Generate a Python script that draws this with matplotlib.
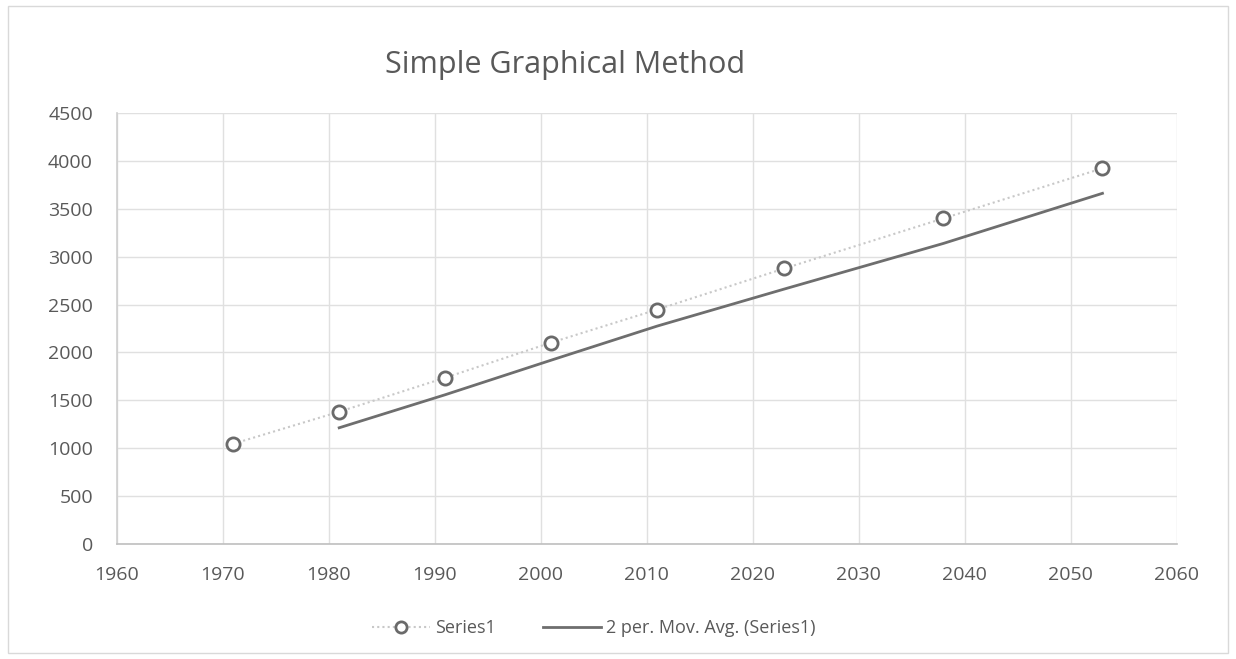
import matplotlib
matplotlib.use("Agg")
import matplotlib.pyplot as plt
from matplotlib.patches import Rectangle
import numpy as np
import pandas as pd

years = [1971, 1981, 1991, 2001, 2011, 2023, 2038, 2053]
values = [1046, 1381, 1736, 2103, 2448, 2877, 3400, 3923]
x_ticks = [1960, 1970, 1980, 1990, 2000, 2010, 2020, 2030, 2040, 2050, 2060]
y_ticks = [0, 500, 1000, 1500, 2000, 2500, 3000, 3500, 4000, 4500]
title = "Simple Graphical Method"
series_label = "Series1"
ma_label = "2 per. Mov. Avg. (Series1)"

plt.rcParams['font.family'] = ['Open Sans', 'DejaVu Sans']

fig = plt.figure(figsize=(12.36, 6.59), dpi=100)
ax = fig.add_axes([0.0943, 0.1745, 0.8577, 0.654])

ma = pd.Series(values).rolling(2).mean()

ax.plot(years, values, linestyle=(0, (1, 1.5)), color='#c8c8c8', linewidth=1.5,
        marker='o', markersize=9.5, markerfacecolor='white',
        markeredgecolor='#6a6a6a', markeredgewidth=2.0, label=series_label, zorder=3)
ax.plot(years[1:], ma[1:], color='#6e6e6e', linewidth=2, label=ma_label, zorder=2)

ax.set_xlim(1960, 2060)
ax.set_ylim(0, 4500)
ax.set_xticks(x_ticks)
ax.set_yticks(y_ticks)
ax.grid(True, color='#e0e0e0', linewidth=1)
ax.set_axisbelow(True)
for s in ['top', 'right']:
    ax.spines[s].set_visible(False)
ax.spines['left'].set_color('#cfcfcf')
ax.spines['bottom'].set_color('#bfbfbf')
ax.spines['left'].set_linewidth(1.2)
ax.spines['bottom'].set_linewidth(1.2)
ax.tick_params(axis='both', length=0, labelsize=14, labelcolor='#595959')
ax.tick_params(axis='y', pad=17)
ax.tick_params(axis='x', pad=16)

fig.text(565 / 1236, 1 - 65 / 659, title, ha='center', va='center',
         fontsize=22, color='#595959')

leg = fig.legend(loc='center', bbox_to_anchor=(594 / 1236, 1 - 628 / 659), ncol=2,
                 frameon=False, fontsize=13, labelcolor='#595959',
                 handlelength=3.2, columnspacing=2.6, handletextpad=0.3,
                 markerscale=0.85)

fig.patches.append(Rectangle((8 / 1236, 6 / 659), 1 - 16 / 1236, 1 - 12 / 659,
                             transform=fig.transFigure, fill=False,
                             edgecolor='#d9d9d9', linewidth=1))

fig.savefig("out.png", dpi=100, facecolor='white')
